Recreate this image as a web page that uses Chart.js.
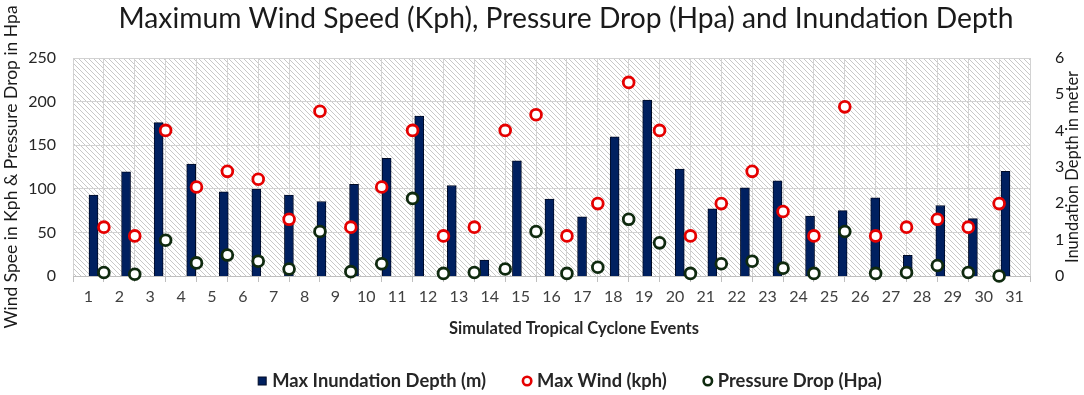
<!DOCTYPE html>
<html>
<head>
<meta charset="utf-8">
<script src="https://cdn.jsdelivr.net/npm/chart.js@4.4.1/dist/chart.umd.min.js"></script>
<style>
  html, body { margin: 0; padding: 0; background: #fff; }
</style>
</head>
<body>
<canvas id="chart" width="1084" height="395"></canvas>
<script>
// event numbers shown on the x axis
const eventLabels = ['1','2','3','4','5','6','7','8','9','10','11','12','13','14','15','16',
  '17','18','19','20','21','22','23','24','25','26','27','28','29','30','31'];

// max inundation depth (m), right axis - 29 bars
const inundationDepth = [2.23, 2.87, 4.22, 3.08, 2.32, 2.39, 2.23, 2.05, 2.52, 3.24, 4.40, 2.49, 0.44,
  3.17, 2.12, 1.63, 3.83, 4.84, 2.94, 1.85, 2.43, 2.62, 1.65, 1.80, 2.15, 0.57, 1.94, 1.58, 2.88];

// max wind (kph), left axis - 30 points between events
const maxWind = [56, 46, 167, 102, 120, 111, 65, 189, 56, 102, 167, 46, 56, 167, 185, 46, 83, 222,
  167, 46, 83, 120, 74, 46, 194, 46, 56, 65, 56, 83];

// pressure drop (hpa), left axis
const pressureDrop = [4, 2, 41, 15, 24, 17, 8, 51, 5, 14, 89, 3, 4, 8, 51, 3, 10, 65, 38, 3, 14, 17,
  9, 3, 51, 3, 4, 12, 4, 0];

const FONT = 'Lato, "Open Sans", sans-serif';
const NAVY = '#002060';
const RED = '#e50000';
const GREEN = '#0f2a0f';

function makeHatch(ctx) {
  const c = document.createElement('canvas');
  c.width = 5; c.height = 5;
  const p = c.getContext('2d');
  p.fillStyle = '#fff';
  p.fillRect(0, 0, 5, 5);
  p.strokeStyle = '#c8c8c8';
  p.lineWidth = 1;
  p.beginPath();
  p.moveTo(-1, -1); p.lineTo(6, 6);
  p.moveTo(-1, 4); p.lineTo(1, 6);
  p.moveTo(4, -1); p.lineTo(6, 1);
  p.stroke();
  return ctx.createPattern(c, 'repeat');
}

// font size that makes text about `width` pixels wide
function fitSize(ctx, text, weight, width) {
  ctx.font = weight + ' 20px ' + FONT;
  return 20 * width / ctx.measureText(text).width;
}

const decorPlugin = {
  id: 'decor',
  beforeDraw(chart) {
    const { ctx, chartArea: a } = chart;
    ctx.save();
    ctx.fillStyle = makeHatch(ctx);
    ctx.fillRect(a.left, a.top, a.width, a.height);
    ctx.restore();
  },
  afterDraw(chart) {
    const ctx = chart.ctx;
    ctx.save();
    ctx.textBaseline = 'middle';

    // main title, a little condensed like the original
    const title = 'Maximum Wind Speed (Kph), Pressure Drop (Hpa) and Inundation Depth';
    ctx.fillStyle = '#1a1a1a';
    ctx.font = 'normal 29px ' + FONT;
    ctx.textAlign = 'center';
    const tw = ctx.measureText(title).width;
    ctx.save();
    ctx.translate(566, 19);
    ctx.scale(895 / tw, 1);
    ctx.fillText(title, 0, 0);
    ctx.restore();

    // x axis title
    const xTitle = 'Simulated Tropical Cyclone Events';
    ctx.fillStyle = '#262626';
    ctx.font = 'bold ' + fitSize(ctx, xTitle, 'bold', 250) + 'px ' + FONT;
    ctx.fillText(xTitle, 574, 329);

    // right axis title, reading bottom to top
    ctx.save();
    ctx.translate(1073, 167);
    ctx.rotate(-Math.PI / 2);
    ctx.font = 'normal 16.5px ' + FONT;
    ctx.fillStyle = '#1a1a1a';
    ctx.fillText('Inundation Depth in meter', 0, 0);
    ctx.restore();

    // legend
    const items = [
      { text: 'Max Inundation Depth (m)', kind: 'bar' },
      { text: 'Max Wind (kph)', kind: 'ring', color: RED },
      { text: 'Pressure Drop (Hpa)', kind: 'ring', color: GREEN }
    ];
    ctx.font = 'bold ' + fitSize(ctx, items[0].text, 'bold', 214) + 'px ' + FONT;
    ctx.textAlign = 'left';
    const gapMarker = 10, gapItem = 41;
    let total = 0;
    items.forEach((it, i) => {
      it.w = ctx.measureText(it.text).width;
      total += gapMarker + it.w + (i < items.length - 1 ? gapItem : 0);
    });
    let x = 572 - total / 2;
    const ly = 381;
    items.forEach(it => {
      if (it.kind === 'bar') {
        ctx.fillStyle = NAVY;
        ctx.strokeStyle = '#000b26';
        ctx.lineWidth = 1;
        ctx.fillRect(x - 4, ly - 4, 8, 8);
        ctx.strokeRect(x - 4, ly - 4, 8, 8);
      } else {
        ctx.beginPath();
        ctx.arc(x, ly, 4.2, 0, Math.PI * 2);
        ctx.fillStyle = '#fff';
        ctx.fill();
        ctx.lineWidth = 2.6;
        ctx.strokeStyle = it.color;
        ctx.stroke();
      }
      ctx.fillStyle = '#262626';
      ctx.fillText(it.text, x + gapMarker, ly);
      x += gapMarker + it.w + gapItem;
    });
    ctx.restore();
  }
};

const ctx = document.getElementById('chart').getContext('2d');
new Chart(ctx, {
  type: 'bar',
  data: {
    labels: eventLabels,
    datasets: [
      {
        type: 'scatter',
        label: 'Max Wind (kph)',
        data: maxWind.map((v, i) => ({ x: i + 1.5, y: v })),
        xAxisID: 'xp',
        yAxisID: 'y',
        pointRadius: 5.4,
        pointBorderWidth: 2.8,
        pointBackgroundColor: '#fff',
        pointBorderColor: RED,
        clip: false,
        order: 1
      },
      {
        type: 'scatter',
        label: 'Pressure Drop (Hpa)',
        data: pressureDrop.map((v, i) => ({ x: i + 1.5, y: v })),
        xAxisID: 'xp',
        yAxisID: 'y',
        pointRadius: 5.4,
        pointBorderWidth: 2.8,
        pointBackgroundColor: '#fff',
        pointBorderColor: GREEN,
        clip: false,
        order: 2
      },
      {
        type: 'bar',
        label: 'Max Inundation Depth (m)',
        data: inundationDepth.map((v, i) => ({ x: i + 1, y: v })),
        xAxisID: 'xb',
        yAxisID: 'y1',
        barThickness: 9,
        backgroundColor: NAVY,
        borderColor: '#000b26',
        borderWidth: 1,
        order: 3
      }
    ]
  },
  options: {
    responsive: false,
    animation: false,
    devicePixelRatio: 1,
    layout: { padding: { top: 58, bottom: 89, left: 0, right: 0 } },
    plugins: {
      legend: { display: false },
      title: { display: false },
      tooltip: { enabled: false }
    },
    scales: {
      x: {
        type: 'category',
        labels: eventLabels,
        position: 'bottom',
        offset: true,
        grid: { offset: true, color: '#d2d2d2', drawTicks: true, tickLength: 6, tickColor: '#bfbfbf' },
        border: { display: true, color: '#bfbfbf' },
        ticks: { color: '#404040', font: { family: FONT, size: 16 }, padding: 5, maxRotation: 0, autoSkip: false },
        afterFit: s => { s.height = 30; }
      },
      xb: { type: 'linear', display: false, position: 'bottom', offset: false, grid: { offset: false }, min: 0.509, max: 29.891 },
      xp: { type: 'linear', display: false, position: 'bottom', offset: false, grid: { offset: false }, min: 0.5, max: 31.5 },
      y: {
        position: 'left',
        min: 0, max: 250,
        ticks: { stepSize: 50, padding: 17, color: '#262626', font: { family: FONT, size: 16 } },
        grid: { color: '#d2d2d2', drawTicks: false },
        border: { display: false },
        title: {
          display: true,
          text: 'Wind Spee in Kph & Pressure Drop in Hpa',
          color: '#1a1a1a',
          font: { family: FONT, size: 17.5 },
          padding: { top: 1, bottom: 0 }
        },
        afterFit: s => { s.width = 73; }
      },
      y1: {
        position: 'right',
        min: 0, max: 6,
        ticks: { stepSize: 1, padding: 17, color: '#1a1a1a', font: { family: FONT, size: 16 } },
        grid: { display: false },
        border: { display: false },
        afterFit: s => { s.width = 54; }
      }
    }
  },
  plugins: [decorPlugin]
});
</script>
</body>
</html>
